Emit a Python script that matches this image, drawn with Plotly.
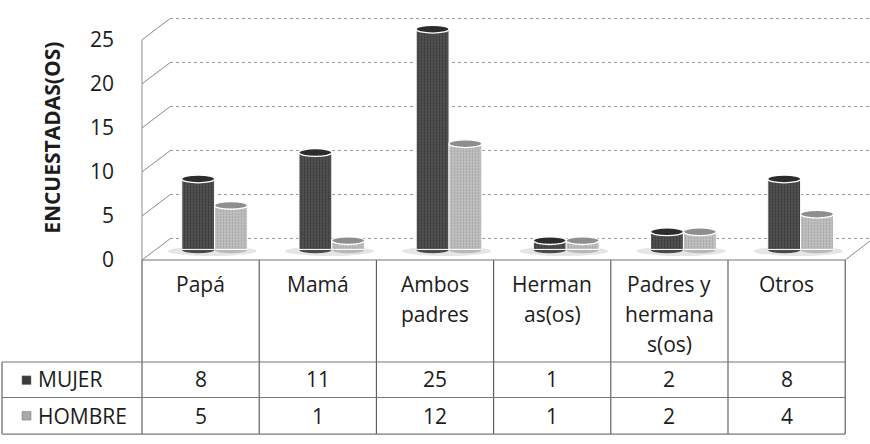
import plotly.graph_objects as go

# ---------------- data ----------------
categories = ["Papá", "Mamá", "Ambos padres", "Hermanas(os)", "Padres y hermanas(os)", "Otros"]
header_lines = [["Papá"], ["Mamá"], ["Ambos", "padres"], ["Herman", "as(os)"],
                ["Padres y", "hermana", "s(os)"], ["Otros"]]
series_names = ["MUJER", "HOMBRE"]
mujer = [8, 11, 25, 1, 2, 8]
hombre = [5, 1, 12, 1, 2, 4]
y_ticks = [0, 5, 10, 15, 20, 25]
y_title = "ENCUESTADAS(OS)"

# ---------------- geometry helpers (pixels of the 870x444 page) ----------------
W, H = 870, 444
def px(x):
    return x / W
def py(y):
    return 1 - y / H

SCALE = 9.16          # px per unit
FRONT0 = 261          # floor front edge (tick labels)
BACK0 = 239           # back wall zero line
MID0 = 250            # bar base
TAB_L = 142           # table / category area left
COLW = 117.2
N = len(categories)
TAB_R = TAB_L + COLW * N
DEPTH_X = 28

FONT = "Open Sans"
TXT = "#1c1c1c"

fig = go.Figure()

# subplot 1: back wall gridlines
fig.add_trace(go.Scatter(x=[None], y=[None], xaxis="x", yaxis="y",
                         showlegend=False, hoverinfo="skip"))

# subplot 2: bars
bw = 0.28
fig.add_trace(go.Bar(
    x=categories, y=mujer, name=series_names[0], xaxis="x2", yaxis="y2",
    width=bw, offset=-bw,
    marker=dict(color="#4a4a4a", line=dict(color="white", width=1),
                pattern=dict(shape=".", bgcolor="#555555", fgcolor="#1e1e1e",
                             size=3, solidity=0.45)),
    showlegend=False, hoverinfo="x+y"))
fig.add_trace(go.Bar(
    x=categories, y=hombre, name=series_names[1], xaxis="x2", yaxis="y2",
    width=bw, offset=0,
    marker=dict(color="#b4b4b4", line=dict(color="white", width=1),
                pattern=dict(shape=".", bgcolor="#c4c4c4", fgcolor="#828282",
                             size=3, solidity=0.4)),
    showlegend=False, hoverinfo="x+y"))

# subplot 3: front tick labels
fig.add_trace(go.Scatter(x=[None], y=[None], xaxis="x3", yaxis="y3",
                         showlegend=False, hoverinfo="skip"))

shapes = []
cap_h = 0.44
for i in range(N):
    # soft shadow under each pair
    shapes.append(dict(type="circle", xref="x2", yref="y2", layer="below",
                       x0=i - 0.40, x1=i + 0.36, y0=-0.75, y1=0.35,
                       fillcolor="#e2e2e2", opacity=0.9, line=dict(width=0)))
    for vals, off, body, top in ((mujer, -bw, "#4a4a4a", "#2c2c2c"),
                                 (hombre, 0.0, "#b8b8b8", "#8e8e8e")):
        v = vals[i]
        x0, x1 = i + off, i + off + bw
        # rounded base
        shapes.append(dict(type="circle", xref="x2", yref="y2", layer="below",
                           x0=x0, x1=x1, y0=-cap_h, y1=cap_h,
                           fillcolor=body, line=dict(width=0)))
        # top cap
        shapes.append(dict(type="circle", xref="x2", yref="y2", layer="above",
                           x0=x0, x1=x1, y0=v - cap_h, y1=v + cap_h,
                           fillcolor=top, line=dict(color="white", width=1.3)))

# left wall (front edge + diagonals per tick)
wall = dict(color="#8a8a8a", width=1)
shapes.append(dict(type="line", xref="paper", yref="paper", layer="below",
                   x0=px(TAB_L), x1=px(TAB_L),
                   y0=py(FRONT0), y1=py(FRONT0 - y_ticks[-1] * SCALE), line=wall))
for t in y_ticks:
    shapes.append(dict(type="line", xref="paper", yref="paper", layer="below",
                       x0=px(TAB_L), y0=py(FRONT0 - t * SCALE),
                       x1=px(TAB_L + DEPTH_X), y1=py(BACK0 - t * SCALE), line=wall))
# floor right diagonal
shapes.append(dict(type="line", xref="paper", yref="paper", layer="below",
                   x0=px(TAB_R), y0=py(FRONT0), x1=px(TAB_R + 25), y1=py(FRONT0 - 20),
                   line=wall))

# data table lines
tline = dict(color="#555555", width=1.1)
hline = dict(color="#777777", width=1.1)
ROW_TOP = 367
ROW_MID = 404
ROW_BOT = 442
LEG_L = 2
for k in range(N + 1):
    x = TAB_L + COLW * k
    shapes.append(dict(type="line", xref="paper", yref="paper", layer="below",
                       x0=px(x), x1=px(x), y0=py(FRONT0), y1=py(ROW_BOT), line=tline))
shapes.append(dict(type="line", xref="paper", yref="paper", layer="below",
                   x0=px(LEG_L), x1=px(LEG_L), y0=py(ROW_TOP), y1=py(ROW_BOT), line=tline))
shapes.append(dict(type="line", xref="paper", yref="paper", layer="below",
                   x0=px(TAB_L), x1=px(TAB_R), y0=py(FRONT0), y1=py(FRONT0), line=hline))
for yy in (ROW_TOP, ROW_MID, ROW_BOT):
    shapes.append(dict(type="line", xref="paper", yref="paper", layer="below",
                       x0=px(LEG_L), x1=px(TAB_R), y0=py(yy), y1=py(yy), line=hline))

# legend keys
for yc, col in ((386, "#3a3a3a"), (423, "#a8a8a8")):
    shapes.append(dict(type="rect", xref="paper", yref="paper",
                       x0=px(22), x1=px(31), y0=py(yc - 4.5), y1=py(yc + 4.5),
                       fillcolor=col, line=dict(color="#777", width=0.5)))

annotations = []
# header labels
for i, lines in enumerate(header_lines):
    xc = TAB_L + COLW * (i + 0.5)
    for k, ln in enumerate(lines):
        annotations.append(dict(xref="paper", yref="paper", x=px(xc), y=py(286 + 31 * k),
                                text=ln, showarrow=False, xanchor="center", yanchor="middle",
                                font=dict(family=FONT, size=21, color=TXT)))
# values
for vals, yc in ((mujer, 385), (hombre, 423.5)):
    for i, v in enumerate(vals):
        xc = TAB_L + COLW * (i + 0.5)
        annotations.append(dict(xref="paper", yref="paper", x=px(xc), y=py(yc),
                                text=str(v), showarrow=False, xanchor="center", yanchor="middle",
                                font=dict(family=FONT, size=21, color=TXT)))
# series names
for name, yc in zip(series_names, (385, 423.5)):
    annotations.append(dict(xref="paper", yref="paper", x=px(36), y=py(yc),
                            text=name, showarrow=False, xanchor="left", yanchor="middle",
                            font=dict(family=FONT, size=21, color=TXT)))
# y title
annotations.append(dict(xref="paper", yref="paper", x=px(52), y=py(134),
                        text=f"<b>{y_title}</b>", textangle=-90, showarrow=False,
                        xanchor="center", yanchor="middle",
                        font=dict(family=FONT, size=21, color=TXT)))

lo, hi = -0.6, 25.6
fig.update_layout(
    width=W, height=H, margin=dict(l=0, r=0, t=0, b=0),
    paper_bgcolor="white", plot_bgcolor="rgba(0,0,0,0)",
    barmode="overlay", showlegend=False,
    xaxis=dict(domain=[px(TAB_L + DEPTH_X), 1], range=[0, 1], visible=False, anchor="y"),
    yaxis=dict(domain=[py(BACK0 - lo * SCALE), py(BACK0 - hi * SCALE)], range=[lo, hi],
               anchor="x", tickvals=y_ticks, showticklabels=False, ticks="",
               showgrid=True, gridcolor="#9a9a9a", griddash="dot", gridwidth=1,
               zeroline=False, showline=False),
    xaxis2=dict(domain=[px(TAB_L + DEPTH_X / 2), px(TAB_R + DEPTH_X / 2)], range=[-0.5, N - 0.5],
                type="category", categoryorder="array", categoryarray=categories,
                visible=False, anchor="y2"),
    yaxis2=dict(domain=[py(MID0 + 1.5 * SCALE), py(MID0 - 27 * SCALE)], range=[-1.5, 27],
                visible=False, anchor="x2"),
    xaxis3=dict(domain=[px(TAB_L), px(TAB_L + 1)], range=[0, 1], visible=False, anchor="y3"),
    yaxis3=dict(domain=[py(FRONT0 - lo * SCALE), py(FRONT0 - hi * SCALE)], range=[lo, hi],
                anchor="x3", tickvals=y_ticks, ticktext=[str(t) for t in y_ticks],
                ticks="", showgrid=False, zeroline=False, showline=False,
                ticklabelstandoff=27, tickfont=dict(family=FONT, size=21, color=TXT)),
    shapes=shapes, annotations=annotations,
)

fig.write_html("out.html", config={"displayModeBar": False},
               post_script="document.body.style.margin='0';document.body.style.overflow='hidden';")
